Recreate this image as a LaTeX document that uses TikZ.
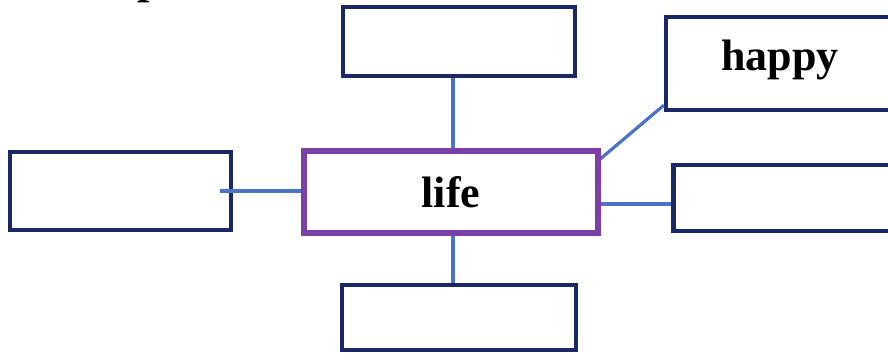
\documentclass[tikz,border=0pt]{standalone}
\usepackage{fontspec}
\setmainfont{Liberation Serif}
\usetikzlibrary{calc}
\definecolor{navy}{HTML}{1A2966}
\definecolor{purp}{HTML}{7B3FA6}
\definecolor{conblue}{HTML}{4A72C8}
\begin{document}
\begin{tikzpicture}[x=1pt,y=-1pt,
  box/.style={draw=navy,line width=4.5pt,fill=white,rectangle,inner sep=0pt},
  centrebox/.style={draw=purp,line width=4pt,fill=white,rectangle,inner sep=0pt},
  con/.style={draw=conblue,line width=3.2pt},
  lbl/.style={font=\fontsize{44}{48}\selectfont\bfseries}]
\useasboundingbox (0,0) rectangle (888,360);
\clip (0,0) rectangle (888,360);
\fill[white] (0,0) rectangle (888,360);
% cut-off text at the top
\node[anchor=base west,inner sep=0pt,lbl] (ptxt) at (137,-6.5) {p};
\coordinate (tx) at (453,0);
\coordinate (lx) at (220,191);
\coordinate (ry) at (0,204);
\node[centrebox,minimum width=292pt,minimum height=80pt] (life) at (450.5,191.5) {};
\node[box,minimum width=232pt,minimum height=69pt] (top) at (459,41.5) {};
\node[box,minimum width=232pt,minimum height=93pt] (happy) at (782,63.5) {};
\node[box,minimum width=225pt,minimum height=66pt] (right) at (786,198) {};
\node[box,minimum width=221pt,minimum height=78pt] (left) at (120.5,191) {};
\node[box,minimum width=234pt,minimum height=65pt] (bot) at (459,317.5) {};
\draw[con] (top.south -| tx) -- (life.north -| tx);
\draw[con] (life.south -| tx) -- (bot.north -| tx);
\draw[con] (lx) -- (lx -| life.west);
\draw[con] ($(life.north east)+(0,11)$) -- ($(happy.south west)+(0,-7)$);
\draw[con] (life.east |- ry) -- (right.west |- ry);
\draw[draw=purp,line width=4pt] (life.north west) rectangle (life.south east);
\node[lbl] (lifetxt) at (451,192) {life};
\node[lbl] (happytxt) at (780,60) {happy};
\end{tikzpicture}
\end{document}
